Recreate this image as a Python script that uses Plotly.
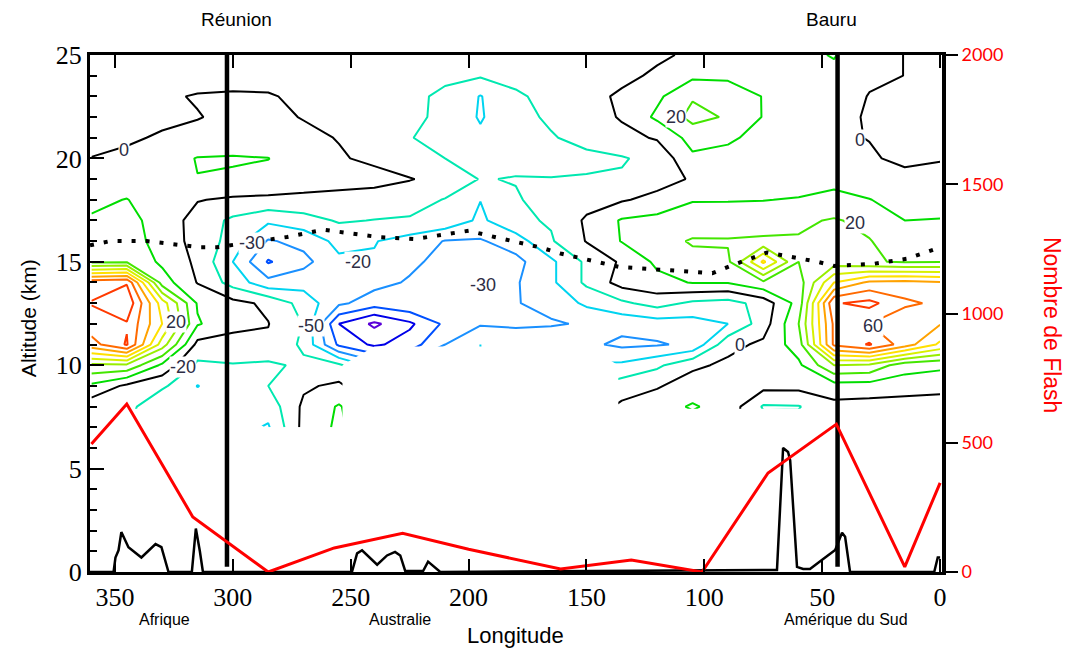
import plotly.graph_objects as go

N = None
# contour grid: longitudes (deg) and altitudes (km)
lon_grid = [360, 345, 330, 315, 300, 285, 270, 255, 240, 225, 210, 195, 180,
            165, 150, 135, 120, 105, 90, 75, 60, 45, 30, 15, 0]
alt_grid = [25, 24, 23, 22, 21, 20, 19, 18, 17, 16, 15, 14, 13, 12, 11, 10, 9, 8, 7]

# one column per longitude, values from 25 km down to 7 km
col_360 = [-4, -4, -3, -3.5, -2.5, 0.2, 4, 8, 11, 15, 18, 76, 80.5, 76, 66, 28, 8, -6, N]
col_345 = [-4, -4, -3, -2.5, -1, 1.5, 5, 10.3, 13, 16, 19, 79, 88, 79, 81, 28, -2, -6, N]
col_330 = [-4, -3.5, -1, -1.5, 0.8, 5, 6, 5, 6, 5, 8, 15, 45, 50, 35, 8, -8, -20, N]
col_315 = [-4, -3, 0.5, -0.3, 2, 10.5, 9.8, 0.5, -4, -3, -2, -0.5, 9, 11, -3, -12, -20.3, -16, N]
col_300 = [-4, -3, 1, 1.5, 3, 11, 8.5, -1.5, -12, -14, -20, -14, 3, 3, -4, -10.5, -14, -12, N]
col_285 = [-5, -3.5, 0.8, 1.5, 2.5, 10.2, 7, -2, -18, -31, -41, -27, -2, 0.3, -1.5, -12, -10, -16, -21]
col_270 = [-5, -5, -2, -0.3, 1.5, 5, 5, -2.5, -14, -27, -33, -24, -14, -10.5, -12, -8, -1.5, 2, 3]
col_255 = [-6, -6, -5, -4, -0.3, 0.7, 3.5, -3, -9, -17, -22, -22, -28, -50, -42, -8, 2, 11, 12]
col_240 = [-7, -7, -7, -6, -4, -1.5, 2.5, -3.5, -10.3, -19.5, -21, -27, -35, -62, -52, N, N, N, N]
col_225 = [-7, -8, -8.8, -8, -9.5, -6, 0.5, -6, -11, -24, -28, -31, -31, -52, -45, N, N, N, N]
col_210 = [-8, -9, -11, -12, -14, -10, -3, -10.5, -13, -30.5, -33, -31, -30.5, -38, -30, N, N, N, N]
col_195 = [-8, -9, -20.5, -21, -18, -12, -10.5, -19.8, -22, -31, -32, -33, -32, -31, -20, N, N, N, N]
col_180 = [-7, -8, -11, -12, -13, -13, -9.5, -11, -12, -25, -33, -31, -30.5, -31, -26, N, N, N, N]
col_165 = [-6, -6, -8, -9, -10.5, -12, -9.8, -6, -9, -11, -22, -22, -27, -31, -22, N, N, N, N]
col_150 = [-4, -3.5, -2, -5, -8, -11.5, -9.5, -4, 1.5, 0.5, -8, -8, -18, -29, -28, N, N, N, N]
col_135 = [-2.5, -1.5, 1, 1, -3, -10.8, -9, -1, 11, 10.5, 1.5, 4, -12, -27, -32, -18, -5, 2, N]
col_120 = [-1, 1, 8, 12, 1, -7, -4, 3, 13, 16, 12, 7, -6, -25, -31, -12, -1, 6, N]
col_105 = [1, 8, 19, 23, 14, 8, 1, 9.5, 14, 21, 17, 10.5, -12, -24, -28, -2, 5, 11, N]
col_090 = [4, 9, 13, 19, 12, 6, 5, 9.7, 13, 21, 18, 10.5, -14, -20, -3, 2, 7, 6, N]
col_075 = [7, 7, 9.8, 9.5, 6, 4, 6, 9.8, 14, 22, 52, 18, -6, -5, 2, 8, 3, -11, N]
col_060 = [8, 6, 7, 5, 3, 3, 6.5, 10.5, 18, 21, 20, 15, 14, 20, 15, 8, 3, -10.5, N]
col_045 = [10.5, 8, 6, 3, 1, 2, 8, 12, 21, 22, 25, 50, 79, 72, 72, 30, 6, -3, N]
col_030 = [4, 2, -0.5, -1, -0.2, 0.8, 4, 10.3, 17, 20.5, 21, 62, 83, 70, 81, 28, 6, -4, N]
col_015 = [-0.2, -0.1, -3, -4, -4, -1.5, 2, 6, 10, 14, 19, 63, 72, 62, 65, 14, 5, -5, N]
col_000 = [-3, -3, -4, -5, -4, -0.3, 1.5, 5, 10.5, 15, 19.5, 61, 68, 60.5, 48, 12, 4, -6, N]

columns = [col_360, col_345, col_330, col_315, col_300, col_285, col_270, col_255,
           col_240, col_225, col_210, col_195, col_180, col_165, col_150, col_135,
           col_120, col_105, col_090, col_075, col_060, col_045, col_030, col_015, col_000]

levels = [-60, -50, -40, -30, -20, -10, 0, 10, 20, 30, 40, 50, 60, 70, 80]
level_colors = ['#5a00d8', '#0000e8', '#0050ff', '#1a90ff', '#00d4f0', '#00e8b0', '#000000',
                '#00dd00', '#44e600', '#98ee00', '#d8f000', '#ffe000', '#ffa200', '#ff6a00', '#ff3a00']

# flash counts (right axis)
flash_lon = [360, 345, 317, 285, 257, 228, 200, 161, 131, 101, 73, 44, 15, 0]
flash_val = [495, 650, 213, 0, 93, 150, 88, 12, 46, 0, 383, 572, 20, 345]

# topography (km)
topo_lon = [361, 350.6, 349.8, 348.5, 347.3, 344.3, 338.8, 332.8, 330.3, 327.3, 317.4, 315.7, 314, 312.7,
            249.5, 247.3, 245.2, 241.8, 238.8, 234.6, 231.2, 229, 226.9, 219.3, 217.2, 212,
            69.2, 66.6, 64.5, 63.6, 60.7, 58.1, 55.2, 49.6, 44.5, 41.6, 40.3, 38.2, 2.5, 1, 0]
topo_alt = [0, 0, 0.7, 1.05, 1.93, 1.2, 0.7, 1.35, 1.2, 0, 0, 2.1, 1.0, 0,
            0, 0.9, 1.05, 0.7, 0.35, 0.8, 0.97, 0.8, 0.05, 0.05, 0.5, 0,
            0.1, 6.0, 5.8, 5.4, 0.25, 0.15, 0.15, 0.63, 1.06, 1.9, 1.7, 0, 0, 0.7, 0.7]

# tropopause (dotted)
trop_lon = [360.6, 352, 336.5, 314, 307, 277, 261.5, 238.5, 223, 200, 189, 176.5, 169.7, 161,
            136, 96.6, 89, 73.4, 52, 45, 28.4, 14, 0]
trop_alt = [15.8, 16.0, 16.0, 15.7, 15.7, 16.2, 16.55, 16.2, 16.1, 16.5, 16.2, 15.9, 15.7, 15.4,
            14.75, 14.45, 14.8, 15.45, 15.0, 14.8, 14.9, 15.15, 15.7]

stations = ["Réunion", "Bauru"]
station_lon = [302.5, 43.5]
station_label_lon = [298.5, 46]
regions = ["Afrique", "Australie", "Amérique du Sud"]
region_lon = [329, 229, 40]

label_text = ["0", "-30", "-20", "20", "-20", "-50", "-30", "20", "0", "20", "0", "60"]
label_lon = [346, 292, 247, 324, 321, 267, 194, 112, 34, 36, 85, 28.4]
label_alt = [20.4, 15.9, 15.0, 12.1, 9.9, 11.9, 13.9, 22.0, 20.9, 16.9, 11.0, 11.9]

# build z rows (altitude x longitude)
z = [[columns[j][i] for j in range(len(lon_grid))] for i in range(len(alt_grid))]

fig = go.Figure()
for lev, col in zip(levels, level_colors):
    fig.add_trace(go.Contour(
        x=lon_grid, y=alt_grid, z=z, autocontour=False, connectgaps=False,
        contours=dict(start=lev, end=lev, size=10, coloring='none', showlabels=False),
        line=dict(color=col, width=2, smoothing=0),
        showscale=False, hoverinfo='skip'))

for sl in station_lon:
    fig.add_trace(go.Scatter(x=[sl, sl], y=[0.25, 25], mode='lines',
                             line=dict(color='black', width=4.5), hoverinfo='skip'))

fig.add_trace(go.Scatter(x=trop_lon, y=trop_alt, mode='lines',
                         line=dict(color='black', width=4, dash='4px,10px')))
fig.add_trace(go.Scatter(x=topo_lon, y=topo_alt, mode='lines',
                         line=dict(color='black', width=2.5)))
fig.add_trace(go.Scatter(x=flash_lon, y=flash_val, mode='lines', yaxis='y2',
                         line=dict(color='#ff0000', width=3)))

ann = []
for t, lo, al in zip(label_text, label_lon, label_alt):
    ann.append(dict(x=lo, y=al, text=t, showarrow=False, xref='x', yref='y',
                    xanchor='center', yanchor='middle',
                    font=dict(family='Liberation Sans', size=18, color='#2d2d44'),
                    bgcolor='white', borderpad=0))
for s, lo in zip(stations, station_label_lon):
    ann.append(dict(x=lo, y=1.068, xref='x', yref='paper', text=s, showarrow=False,
                    xanchor='center', yanchor='middle',
                    font=dict(family='Liberation Sans', size=19, color='black')))
for r, lo in zip(regions, region_lon):
    ann.append(dict(x=lo, y=-0.091, xref='x', yref='paper', text=r, showarrow=False,
                    xanchor='center', yanchor='middle',
                    font=dict(family='Liberation Sans', size=16, color='black')))
ann.append(dict(x=180.3, y=-0.122, xref='x', yref='paper', text='Longitude', showarrow=False,
                xanchor='center', yanchor='middle',
                font=dict(family='Liberation Sans', size=22, color='black')))
ann.append(dict(x=-0.0728, y=0.491, xref='paper', yref='paper', text='Altitude (km)', showarrow=False,
                xanchor='center', yanchor='middle', textangle=-90,
                font=dict(family='Liberation Sans', size=21, color='black')))
ann.append(dict(x=1.129, y=0.478, xref='paper', yref='paper', text='Nombre de Flash', showarrow=False,
                xanchor='center', yanchor='middle', textangle=90,
                font=dict(family='Liberation Sans', size=23, color='#ff0000')))

fig.update_layout(
    width=1072, height=642, showlegend=False,
    margin=dict(l=82, r=138, t=47, b=78),
    paper_bgcolor='white', plot_bgcolor='white',
    xaxis=dict(range=[360.6, -0.8], tickmode='array', tickvals=[350, 300, 250, 200, 150, 100, 50, 0],
               ticks='inside', ticklen=13, tickwidth=2, tickcolor='black',
               showline=True, linewidth=3, linecolor='black', mirror='ticks',
               showgrid=False, zeroline=False,
               tickfont=dict(family='Liberation Serif', size=26, color='black')),
    yaxis=dict(range=[0, 25], tickmode='array', tickvals=[0, 5, 10, 15, 20, 25],
               ticks='inside', ticklen=14, tickwidth=2, tickcolor='black',
               minor=dict(ticks='inside', ticklen=7, tickwidth=2, tickcolor='black', dtick=1, tick0=0),
               showline=True, linewidth=3, linecolor='black',
               showgrid=False, zeroline=False,
               tickfont=dict(family='Liberation Serif', size=26, color='black')),
    yaxis2=dict(range=[0, 2000], overlaying='y', side='right', anchor='x',
                tickmode='array', tickvals=[0, 500, 1000, 1500, 2000],
                ticks='outside', ticklen=12, tickwidth=2, tickcolor='black',
                showline=True, linewidth=4, linecolor='black',
                showgrid=False, zeroline=False,
                tickfont=dict(family='Lato', size=18, color='#ff0000')),
    annotations=ann,
)

fig.write_html("out.html")
